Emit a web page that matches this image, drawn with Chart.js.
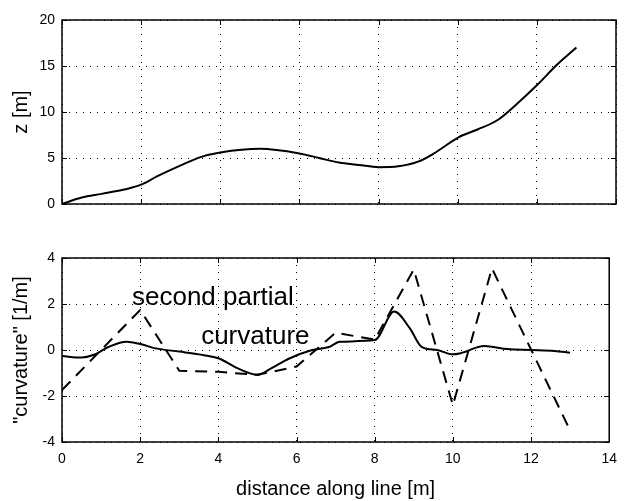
<!DOCTYPE html>
<html>
<head>
<meta charset="utf-8">
<script src="https://cdn.jsdelivr.net/npm/chart.js@4/dist/chart.umd.min.js"></script>
<style>
  body { margin: 0; background: #fff; }
  #wrap { position: relative; width: 626px; height: 501px; }
  canvas { position: absolute; left: 0; }
  #top { top: 0; }
  #bottom { top: 230px; }
</style>
</head>
<body>
<div id="wrap">
  <canvas id="top" width="626" height="230"></canvas>
  <canvas id="bottom" width="626" height="271"></canvas>
</div>
<script>
// distance along line [m]
const xTicks = [0, 2, 4, 6, 8, 10, 12, 14];

/* top: height z [m] */
const zDist = [0, 0.5, 1, 1.6, 2, 2.4, 3, 3.5, 4, 5, 6, 6.5, 7, 7.5, 8, 8.5, 9, 9.4, 10, 10.5, 11, 11.5, 12, 12.5, 13];
const zVals = [0, 0.7, 1.1, 1.6, 2.1, 3.0, 4.2, 5.1, 5.6, 6.0, 5.5, 5.0, 4.5, 4.25, 4.0, 4.1, 4.6, 5.5, 7.2, 8.1, 9.1, 10.9, 12.9, 15.1, 17.0];

/* bottom: curvature (solid) */
const curvDist = [0, 0.5, 0.8, 1.2, 1.65, 2, 2.4, 3, 3.5, 4, 4.5, 5, 5.35, 5.8, 6.4, 6.85, 7.1, 8, 8.5, 8.9, 9.2, 9.6, 10, 10.2, 10.8, 11.4, 12, 12.6, 13];
const curvVals = [-0.26, -0.33, -0.22, 0.14, 0.36, 0.26, 0.07, -0.07, -0.19, -0.36, -0.8, -1.08, -0.8, -0.38, 0.0, 0.14, 0.36, 0.43, 1.67, 0.94, 0.14, 0.0, -0.19, -0.14, 0.17, 0.04, 0.0, -0.04, -0.12];

/* bottom: second partial (dashed) */
const partDist = [0, 2, 3, 4, 5, 6, 7, 8, 9, 10, 11, 12, 13];
const partVals = [-1.74, 1.74, -0.9, -0.95, -1.08, -0.72, 0.75, 0.45, 3.5, -2.4, 3.55, 0.02, -3.5];

const toPts = (xs, ys) => xs.map((x, i) => ({ x: x, y: ys[i] }));

const FONT = '"Liberation Sans", Arial, sans-serif';

// box round the plot + inward ticks, like matlab
const framePlugin = {
  id: 'frame',
  afterDraw(chart) {
    const { ctx, chartArea: a, scales } = chart;
    const x = scales.x, y = scales.y;
    ctx.save();
    ctx.strokeStyle = '#000';
    ctx.lineWidth = 1;
    ctx.beginPath();
    x.ticks.forEach(t => {
      const px = Math.round(x.getPixelForValue(t.value)) + 0.5;
      ctx.moveTo(px, a.bottom); ctx.lineTo(px, a.bottom - 5);
      ctx.moveTo(px, a.top); ctx.lineTo(px, a.top + 5);
    });
    y.ticks.forEach(t => {
      const py = Math.round(y.getPixelForValue(t.value)) + 0.5;
      ctx.moveTo(a.left, py); ctx.lineTo(a.left + 5, py);
      ctx.moveTo(a.right, py); ctx.lineTo(a.right - 5, py);
    });
    ctx.stroke();
    ctx.lineWidth = 1.5;
    ctx.strokeRect(a.left, a.top, a.right - a.left, a.bottom - a.top);
    ctx.restore();
  }
};

// text labels inside the lower plot
const notes = [
  { text: 'second partial', x: 1.79, y: 2.26 },
  { text: 'curvature', x: 3.56, y: 0.57 }
];
const notePlugin = {
  id: 'notes',
  afterDatasetsDraw(chart) {
    const { ctx, scales } = chart;
    ctx.save();
    ctx.font = '26px ' + FONT;
    ctx.fillStyle = '#000';
    ctx.textAlign = 'left';
    ctx.textBaseline = 'middle';
    notes.forEach(n => {
      ctx.fillText(n.text, scales.x.getPixelForValue(n.x), scales.y.getPixelForValue(n.y));
    });
    ctx.restore();
  }
};

function xScale(showLabels, h) {
  return {
    type: 'linear',
    min: 0, max: 14,
    afterBuildTicks: s => { s.ticks = xTicks.map(v => ({ value: v })); },
    ticks: { display: showLabels, color: '#000', font: { family: FONT, size: 14 }, padding: 9, maxRotation: 0 },
    grid: { color: '#000', lineWidth: 1, drawTicks: false },
    border: { display: false, dash: [1, 6] },
    title: {
      display: showLabels,
      text: 'distance along line [m]',
      color: '#000',
      font: { family: FONT, size: 20 },
      padding: { top: 0, bottom: 0 }
    },
    afterFit: s => { s.height = h; }
  };
}

function yScale(min, max, step, label) {
  return {
    min: min, max: max,
    ticks: { stepSize: step, color: '#000', font: { family: FONT, size: 14 }, padding: 7 },
    grid: { color: '#000', lineWidth: 1, drawTicks: false },
    border: { display: false, dash: [1, 6] },
    title: {
      display: true,
      text: label,
      color: '#000',
      font: { family: FONT, size: 20 },
      padding: { top: 9, bottom: 0 }
    },
    afterFit: s => { s.width = 62; }
  };
}

const common = {
  responsive: false,
  animation: false,
  devicePixelRatio: 1,
  plugins: { legend: { display: false }, tooltip: { enabled: false } },
  elements: { point: { radius: 0 } }
};

const topChart = new Chart(document.getElementById('top'), {
  type: 'line',
  data: {
    datasets: [{
      data: toPts(zDist, zVals),
      borderColor: '#000',
      borderWidth: 2,
      cubicInterpolationMode: 'monotone',
      fill: false
    }]
  },
  options: {
    ...common,
    layout: { padding: { top: 20, right: 10, left: 0, bottom: 0 } },
    scales: {
      x: xScale(false, 26),
      y: yScale(0, 20, 5, 'z [m]')
    }
  },
  plugins: [framePlugin]
});

const bottomChart = new Chart(document.getElementById('bottom'), {
  type: 'line',
  data: {
    datasets: [{
      label: 'curvature',
      data: toPts(curvDist, curvVals),
      borderColor: '#000',
      borderWidth: 2,
      cubicInterpolationMode: 'monotone',
      fill: false
    }, {
      label: 'second partial',
      data: toPts(partDist, partVals),
      borderColor: '#000',
      borderWidth: 2,
      borderDash: [12, 8],
      tension: 0,
      fill: false
    }]
  },
  options: {
    ...common,
    layout: { padding: { top: 28, right: 10, left: 0, bottom: 0 } },
    scales: {
      x: xScale(true, 59),
      y: yScale(-4, 4, 2, '"curvature" [1/m]')
    }
  },
  plugins: [framePlugin, notePlugin]
});
</script>
</body>
</html>
